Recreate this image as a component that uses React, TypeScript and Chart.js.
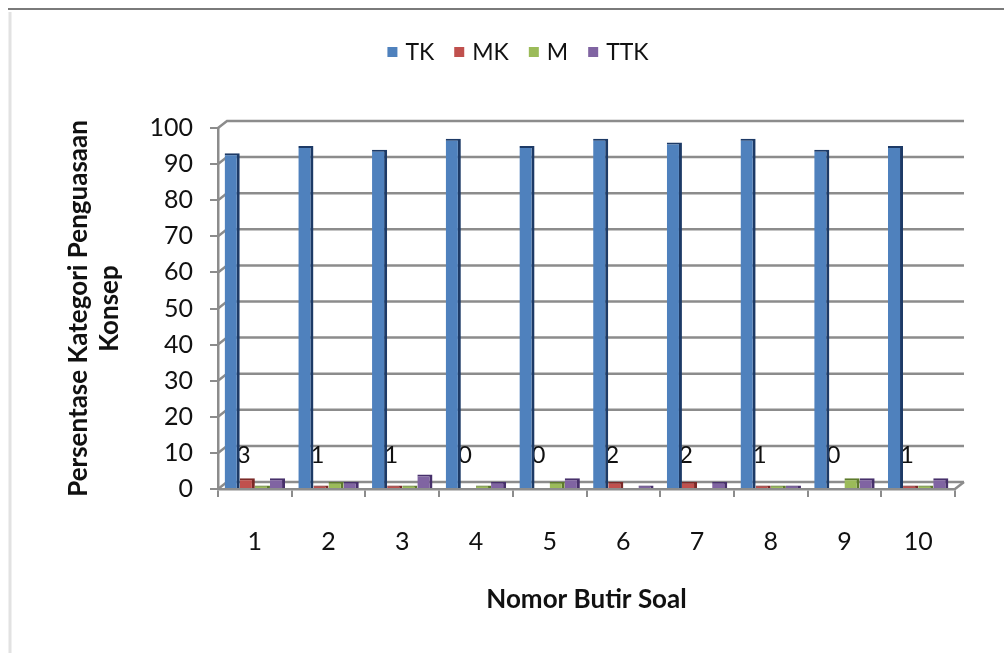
import React, { useEffect, useRef } from "react";
import { Chart, registerables } from "chart.js";

Chart.register(...registerables);

// Item numbers and the share (%) of students in each concept-mastery category
const categories = ["1", "2", "3", "4", "5", "6", "7", "8", "9", "10"];
const tkValues = [93, 95, 94, 97, 95, 97, 96, 97, 94, 95];
const mkValues = [3, 1, 1, 0, 0, 2, 2, 1, 0, 1];
const mValues = [1, 2, 1, 1, 2, 0, 0, 1, 3, 1];
const ttkValues = [3, 2, 4, 2, 3, 1, 2, 1, 3, 3];

const seriesNames = ["TK", "MK", "M", "TTK"];
const seriesFill = ["#4F81BD", "#C0504D", "#9BBB59", "#8064A2"];
const seriesEdge = ["#1d3a66", "#7b2927", "#5d7a2c", "#47306b"];

const yTitle = ["Persentase Kategori Penguasaan", "Konsep"];
const xTitle = "Nomor Butir Soal";

const FONT = "Lato, 'Open Sans', sans-serif";
const GRID = "#8c8c8c";
// depth offset of the back wall
const DX = 9;
const DY = 7;

const framePlugin = {
  id: "frame",
  beforeDraw(chart: any) {
    const { ctx, width, height } = chart;
    ctx.save();
    ctx.strokeStyle = "#7a7a7a";
    ctx.lineWidth = 2;
    ctx.beginPath();
    ctx.moveTo(8, 9);
    ctx.lineTo(width, 9);
    ctx.stroke();
    ctx.strokeStyle = "#e2e2e2";
    ctx.lineWidth = 3;
    ctx.beginPath();
    ctx.moveTo(10, 12);
    ctx.lineTo(10, height);
    ctx.stroke();
    ctx.restore();
  },
};

const wallPlugin = {
  id: "wall",
  beforeDatasetsDraw(chart: any) {
    const { ctx, chartArea, scales } = chart;
    const y = scales.y;
    ctx.save();
    ctx.strokeStyle = GRID;
    ctx.lineWidth = 2.5;
    y.ticks.forEach((t: any) => {
      const py = y.getPixelForValue(t.value);
      ctx.beginPath();
      ctx.moveTo(chartArea.left, py);
      ctx.lineTo(chartArea.left + DX, py - DY);
      ctx.lineTo(chartArea.right + DX, py - DY);
      ctx.stroke();
    });
    ctx.beginPath();
    ctx.moveTo(chartArea.right, chartArea.bottom);
    ctx.lineTo(chartArea.right + DX, chartArea.bottom - DY);
    ctx.stroke();

    // MK value labels, tucked behind the TK columns
    const tkMeta = chart.getDatasetMeta(0);
    ctx.fillStyle = "#111";
    ctx.font = `24px ${FONT}`;
    ctx.textAlign = "center";
    ctx.textBaseline = "middle";
    const ly = y.getPixelForValue(0) - 34;
    mkValues.forEach((v, i) => {
      const bar = tkMeta.data[i];
      const x = bar.x + bar.width / 2 + 4;
      ctx.fillText(String(v), x, ly);
    });
    ctx.restore();
  },
};

const legendPlugin = {
  id: "topLegend",
  afterDraw(chart: any) {
    const { ctx } = chart;
    const box = 10;
    const gap = 8;
    const spacing = 20;
    ctx.save();
    ctx.font = `23px ${FONT}`;
    const widths = seriesNames.map((n) => ctx.measureText(n).width);
    const total =
      widths.reduce((a, w) => a + box + gap + w, 0) + spacing * (seriesNames.length - 1);
    let x = 518 - total / 2;
    const cy = 52;
    ctx.textBaseline = "middle";
    ctx.textAlign = "left";
    seriesNames.forEach((n, i) => {
      ctx.fillStyle = seriesFill[i];
      ctx.fillRect(x, cy - box / 2, box, box);
      ctx.fillStyle = "#111";
      ctx.fillText(n, x + box + gap, cy + 1);
      x += box + gap + widths[i] + spacing;
    });
    ctx.restore();
  },
};

export default function App() {
  const canvasRef = useRef<HTMLCanvasElement | null>(null);

  useEffect(() => {
    if (!canvasRef.current) return;
    const series = [tkValues, mkValues, mValues, ttkValues];
    const chart = new Chart(canvasRef.current, {
      type: "bar",
      data: {
        labels: categories,
        datasets: series.map((vals, i) => ({
          label: seriesNames[i],
          data: vals,
          backgroundColor: seriesFill[i],
          borderColor: seriesEdge[i],
          borderWidth: { top: 2, right: 3, left: 0, bottom: 0 },
          borderSkipped: false,
          categoryPercentage: 0.82,
          barPercentage: 1,
        })),
      },
      options: {
        responsive: false,
        animation: false,
        devicePixelRatio: 1,
        layout: { padding: { top: 128, right: 49, left: 0, bottom: 0 } },
        plugins: {
          legend: { display: false },
          tooltip: { enabled: false },
        },
        scales: {
          x: {
            grid: {
              display: true,
              drawOnChartArea: false,
              drawTicks: true,
              tickLength: 8,
              color: GRID,
              lineWidth: 2,
              offset: true,
            },
            border: { display: true, color: GRID, width: 2.5 },
            ticks: {
              color: "#111",
              font: { family: FONT, size: 25 },
              padding: 30,
            },
            title: {
              display: true,
              text: xTitle,
              color: "#111",
              font: { family: FONT, size: 26, weight: "bold", lineHeight: 1.2 },
              padding: { top: 0, bottom: 38 },
            },
            afterFit(scale: any) {
              scale.height = 653 - 489;
            },
          },
          y: {
            min: 0,
            max: 100,
            grid: {
              display: true,
              drawOnChartArea: false,
              drawTicks: true,
              tickLength: 8,
              color: GRID,
              lineWidth: 2,
            },
            border: { display: true, color: GRID, width: 2.5 },
            ticks: {
              stepSize: 10,
              color: "#111",
              font: { family: FONT, size: 25 },
              padding: 17,
            },
            title: {
              display: true,
              text: yTitle,
              color: "#111",
              font: { family: FONT, size: 26, weight: "bold", lineHeight: 1.2 },
              padding: { top: 63, bottom: 0 },
            },
            afterFit(scale: any) {
              scale.width = 218;
            },
          },
        },
      },
      plugins: [framePlugin, wallPlugin, legendPlugin],
    });
    return () => chart.destroy();
  }, []);

  return (
    <div style={{ position: "fixed", left: 0, top: 0, width: 1004, height: 653, background: "#fff" }}>
      <canvas ref={canvasRef} width={1004} height={653} style={{ display: "block" }} />
    </div>
  );
}
